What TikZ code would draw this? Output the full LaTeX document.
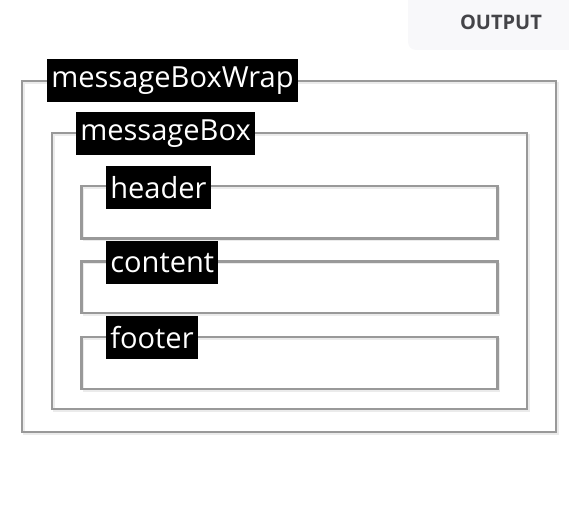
\documentclass[tikz,border=0pt]{standalone}
\usepackage{fontspec}
\setmainfont{Open Sans}
\begin{document}
\begin{tikzpicture}[x=0.75pt,y=-0.75pt,
  groove/.style={draw=black!40,line width=1.6pt},
  grooveLight/.style={draw=black!8,line width=1.3pt},
  legend/.style={fill=black,text=white,inner xsep=3pt,inner ysep=0pt,minimum height=32.25pt,anchor=north west,font=\fontsize{21.8}{24}\selectfont}
]
\useasboundingbox (0,0) rectangle (569,528);
% output tab
\fill[fill={rgb,255:red,248;green,248;blue,250},rounded corners=6pt] (408,-10) rectangle (580,50);
\node[font=\fontsize{15}{18}\selectfont\bfseries,text={rgb,255:red,68;green,68;blue,72}] (tab) at (501,22) {OUTPUT};
% boxes
\newcommand{\fsbox}[4]{%
  \draw[grooveLight] (#1+2,#2+2) rectangle (#3+2,#4+2);
  \draw[groove] (#1,#2) rectangle (#3,#4);}
\fsbox{22}{81}{556}{432}
\fsbox{52}{133}{527}{409}
\fsbox{81.5}{186}{497.5}{238.5}
\fsbox{81.5}{261.5}{497.5}{313}
\fsbox{81.5}{337}{497.5}{389}
% legends
\node[legend] (wrap) at (47,59) {messageBoxWrap};
\node[legend] (mbox) at (76,112) {messageBox};
\node[legend] (hdr) at (106,166) {header};
\node[legend] (cnt) at (106,241) {content};
\node[legend] (ftr) at (106,316) {footer};
\end{tikzpicture}
\end{document}
